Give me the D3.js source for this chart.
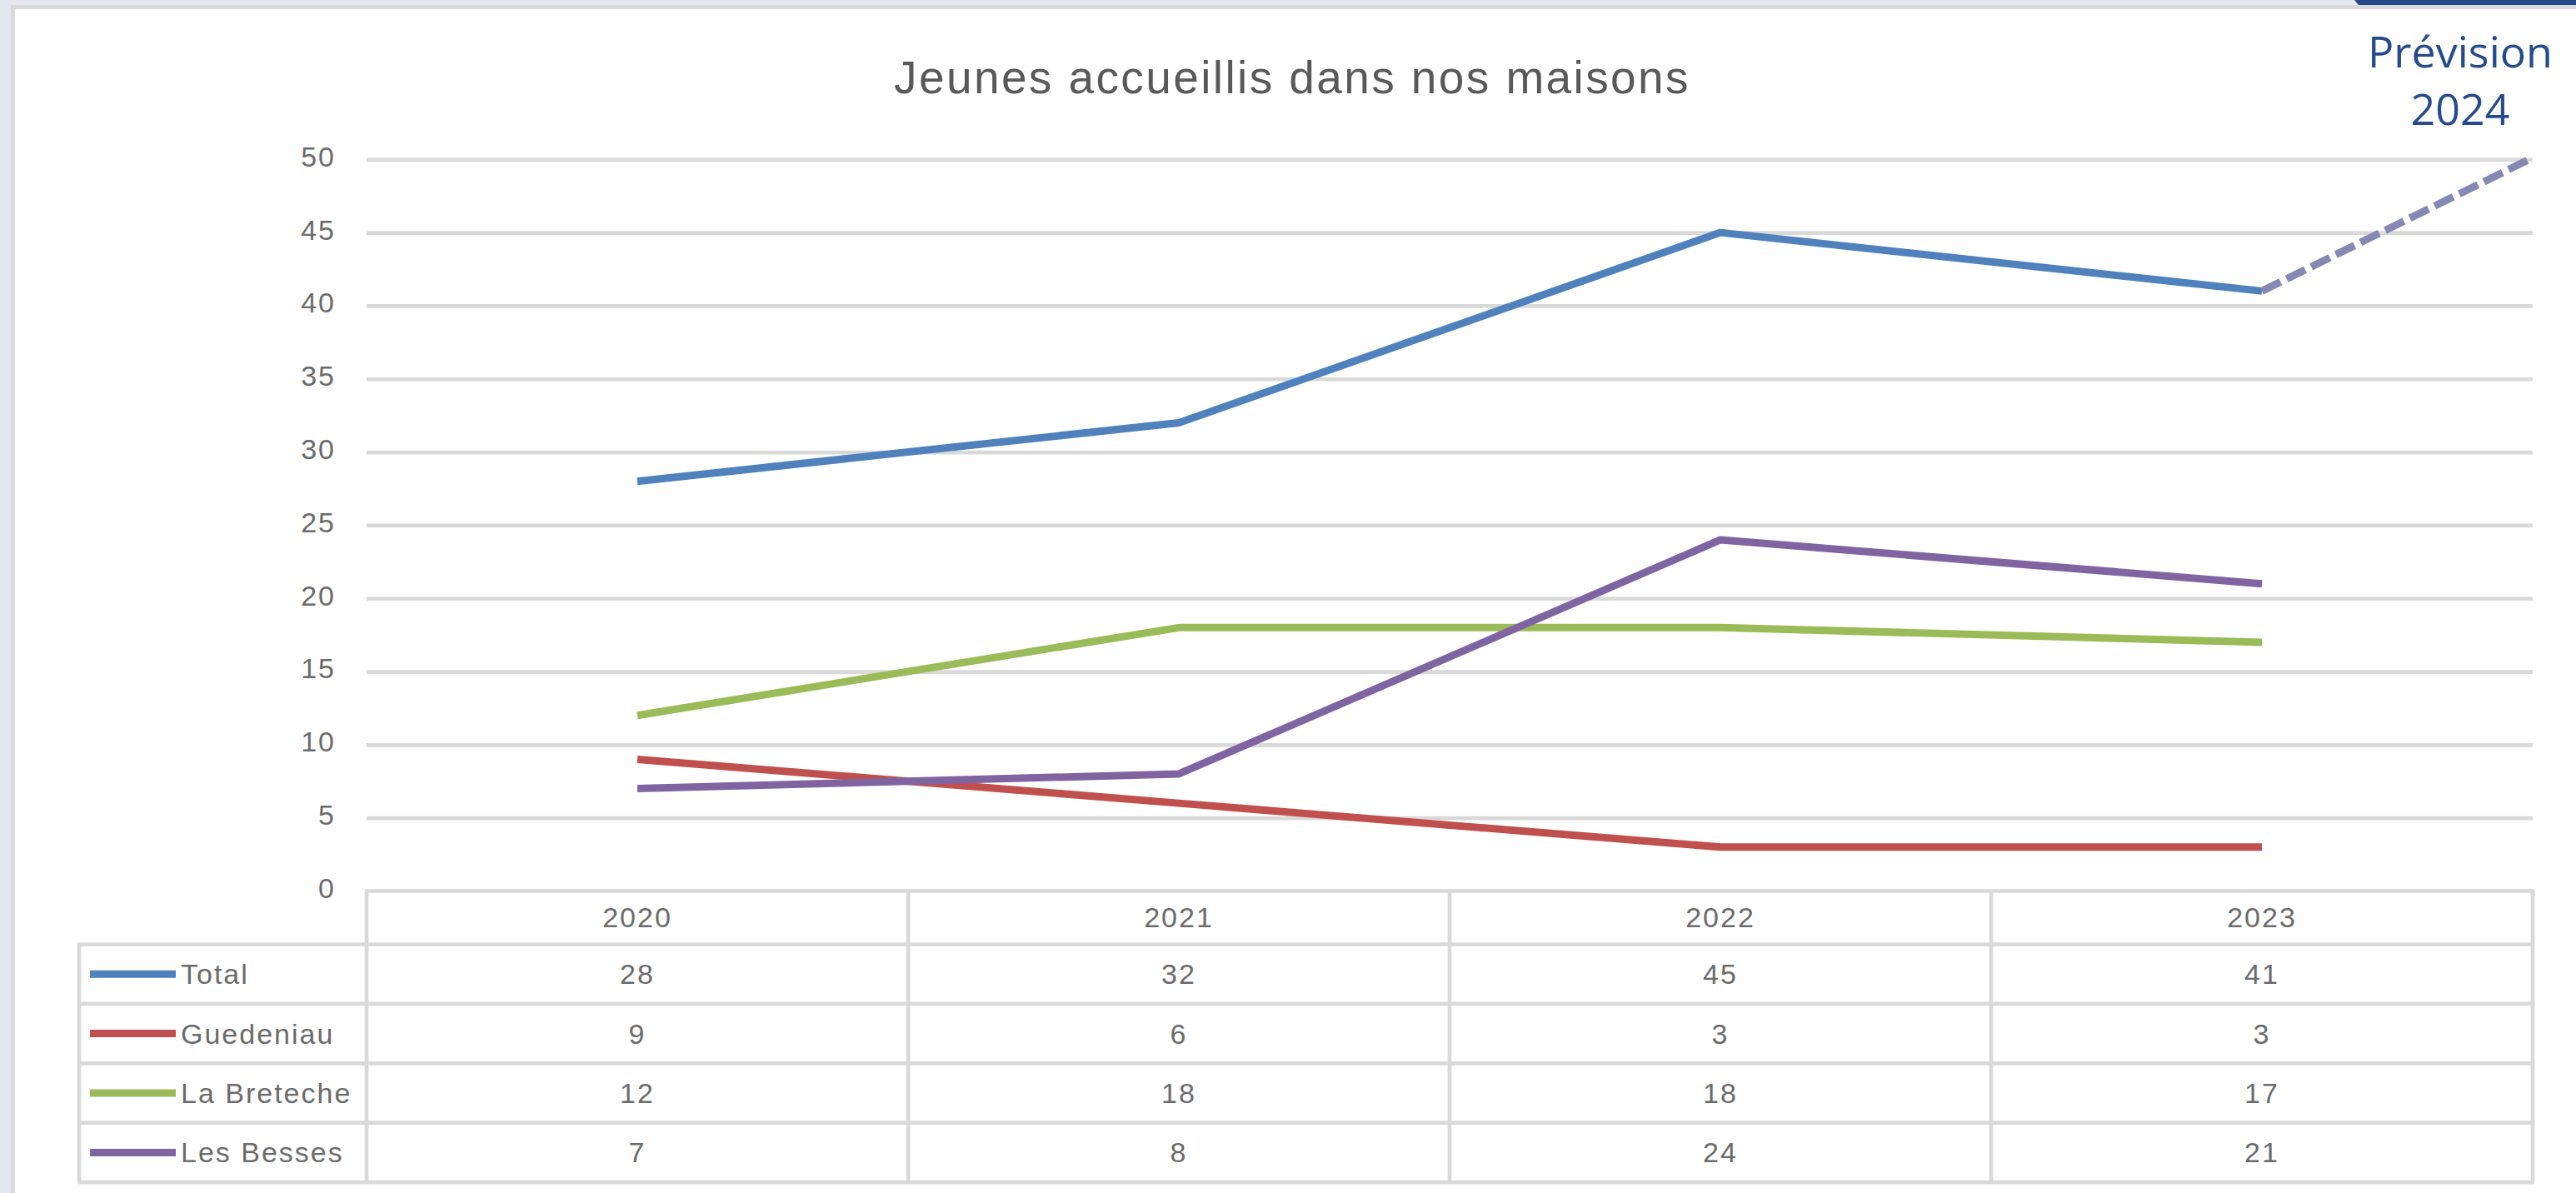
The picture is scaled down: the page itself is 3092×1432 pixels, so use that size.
<!DOCTYPE html>
<html>
<head>
<meta charset="utf-8">
<script src="https://cdn.jsdelivr.net/npm/d3@7"></script>
<style>
  html, body { margin: 0; padding: 0; background: #e4e7ef; }
  svg { display: block; }
</style>
</head>
<body>
<svg id="chart" width="3092" height="1432"></svg>
<script>
// ---- Data ----
const years = ["2020", "2021", "2022", "2023"];
const seriesNames = ["Total", "Guedeniau", "La Breteche", "Les Besses"];
const total = [28, 32, 45, 41];
const guedeniau = [9, 6, 3, 3];
const laBreteche = [12, 18, 18, 17];
const lesBesses = [7, 8, 24, 21];
const forecast2024 = 50;
const yTicks = [0, 5, 10, 15, 20, 25, 30, 35, 40, 45, 50];
const titleText = "Jeunes accueillis dans nos maisons";
const forecastLabel = ["Prévision", "2024"];
const seriesColors = ["#4f81bd", "#c0504d", "#9bbb59", "#8064a2"];

const seriesValues = [total, guedeniau, laBreteche, lesBesses];

// ---- Layout ----
const W = 3092, H = 1432;
const plotLeft = 440, plotRight = 3040;
const yTop = 191.3, yZero = 1069.5;
const headerH = 64, rowH = 71.4;
const legendLeft = 95;
const gridColor = "#d9d9d9";
const textColor = "#6b6b6b";
const font = "'Liberation Sans', Arial, sans-serif";

const svg = d3.select("#chart");

// background / frame
svg.append("rect").attr("x", 0).attr("y", 0).attr("width", W).attr("height", H).attr("fill", "#e4e7ef");
svg.append("rect").attr("x", 15.5).attr("y", 8.5).attr("width", W).attr("height", H)
  .attr("fill", "#ffffff").attr("stroke", "#d9d9d9").attr("stroke-width", 5);
// dark blue tab at top right
svg.append("polygon")
  .attr("points", [[2826, 0], [W, 0], [W, 6], [2831, 6]].map(p => p.join(",")).join(" "))
  .attr("fill", "#254a8a");

// scales
const x = d3.scaleBand().domain(years).range([plotLeft, plotRight]).paddingInner(0).paddingOuter(0);
const bw = x.bandwidth();
const cx = d => x(d) + bw / 2;
const y = d3.scaleLinear().domain([0, 50]).range([yZero, yTop]);

// title
svg.append("text")
  .attr("x", 1551).attr("y", 112)
  .attr("text-anchor", "middle")
  .attr("font-family", font).attr("font-size", 55)
  .attr("letter-spacing", 2.4)
  .attr("fill", "#595959")
  .text(titleText);

// gridlines
const yAxis = d3.axisLeft(y).tickValues(yTicks).tickSize(0).tickPadding(0);
const gAxis = svg.append("g").attr("transform", `translate(${plotLeft},0)`).call(yAxis);
gAxis.select(".domain").remove();
gAxis.selectAll(".tick text")
  .attr("x", -37).attr("dy", "0.32em").attr("y", -3)
  .attr("font-family", font).attr("font-size", 34).attr("letter-spacing", 2)
  .attr("fill", textColor).attr("text-anchor", "end");
gAxis.selectAll(".tick").filter(d => d !== 0).append("line")
  .attr("x1", 0).attr("x2", plotRight - plotLeft)
  .attr("stroke", gridColor).attr("stroke-width", 4.7);

// ---- Data table ----
const table = svg.append("g");
const tableBottom = yZero + headerH + rowH * seriesNames.length;
const rowTop = i => yZero + headerH + rowH * i;
// horizontal lines
table.append("line").attr("x1", plotLeft - 2).attr("x2", plotRight + 2)
  .attr("y1", yZero).attr("y2", yZero).attr("stroke", gridColor).attr("stroke-width", 4.7);
d3.range(seriesNames.length + 1).forEach(i => {
  table.append("line").attr("x1", legendLeft - 2).attr("x2", plotRight + 2)
    .attr("y1", rowTop(i)).attr("y2", rowTop(i))
    .attr("stroke", gridColor).attr("stroke-width", 4.7);
});
// vertical lines
const bounds = years.map(d => x(d)).concat([plotRight]);
bounds.forEach(bx => {
  table.append("line").attr("x1", bx).attr("x2", bx)
    .attr("y1", yZero).attr("y2", tableBottom)
    .attr("stroke", gridColor).attr("stroke-width", 4.7);
});
table.append("line").attr("x1", legendLeft).attr("x2", legendLeft)
  .attr("y1", rowTop(0)).attr("y2", tableBottom)
  .attr("stroke", gridColor).attr("stroke-width", 4.7);

// header years
table.selectAll("text.year").data(years).join("text")
  .attr("class", "year")
  .attr("x", d => cx(d)).attr("y", yZero + headerH / 2).attr("dy", "0.35em")
  .attr("text-anchor", "middle")
  .attr("font-family", font).attr("font-size", 34).attr("letter-spacing", 2)
  .attr("fill", textColor).text(d => d);

// rows
seriesNames.forEach((name, i) => {
  const cy = rowTop(i) + rowH / 2;
  table.append("line").attr("x1", 108).attr("x2", 211)
    .attr("y1", cy).attr("y2", cy)
    .attr("stroke", seriesColors[i]).attr("stroke-width", 9);
  table.append("text").attr("x", 217).attr("y", cy).attr("dy", "0.35em")
    .attr("font-family", font).attr("font-size", 34).attr("letter-spacing", 2)
    .attr("fill", textColor).text(name);
  years.forEach((yr, j) => {
    table.append("text").attr("x", cx(yr)).attr("y", cy).attr("dy", "0.35em")
      .attr("text-anchor", "middle")
      .attr("font-family", font).attr("font-size", 34).attr("letter-spacing", 2)
      .attr("fill", textColor).text(seriesValues[i][j]);
  });
});

// ---- Lines ----
const line = d3.line().x((d, j) => cx(years[j])).y(d => y(d));
seriesValues.forEach((vals, i) => {
  svg.append("path").attr("d", line(vals))
    .attr("fill", "none").attr("stroke", seriesColors[i])
    .attr("stroke-width", 9).attr("stroke-linejoin", "round").attr("stroke-linecap", "butt");
});

// forecast dashed line from 2023 total to 2024 forecast at right edge
const lastYear = years[years.length - 1];
svg.append("path")
  .attr("d", d3.line()([[cx(lastYear), y(total[total.length - 1])], [plotRight - 4, y(forecast2024)]]))
  .attr("fill", "none").attr("stroke", "#8588b2").attr("stroke-width", 9)
  .attr("stroke-dasharray", "25,8");

// forecast label
svg.append("text").attr("x", 2953).attr("y", 81).attr("text-anchor", "middle")
  .attr("font-family", "'Open Sans', 'Noto Sans', sans-serif").attr("font-size", 52)
  .attr("fill", "#264b8c").text(forecastLabel[0]);
svg.append("text").attr("x", 2953).attr("y", 150).attr("text-anchor", "middle")
  .attr("font-family", "'Open Sans', 'Noto Sans', sans-serif").attr("font-size", 52)
  .attr("fill", "#264b8c").text(forecastLabel[1]);
</script>
</body>
</html>
